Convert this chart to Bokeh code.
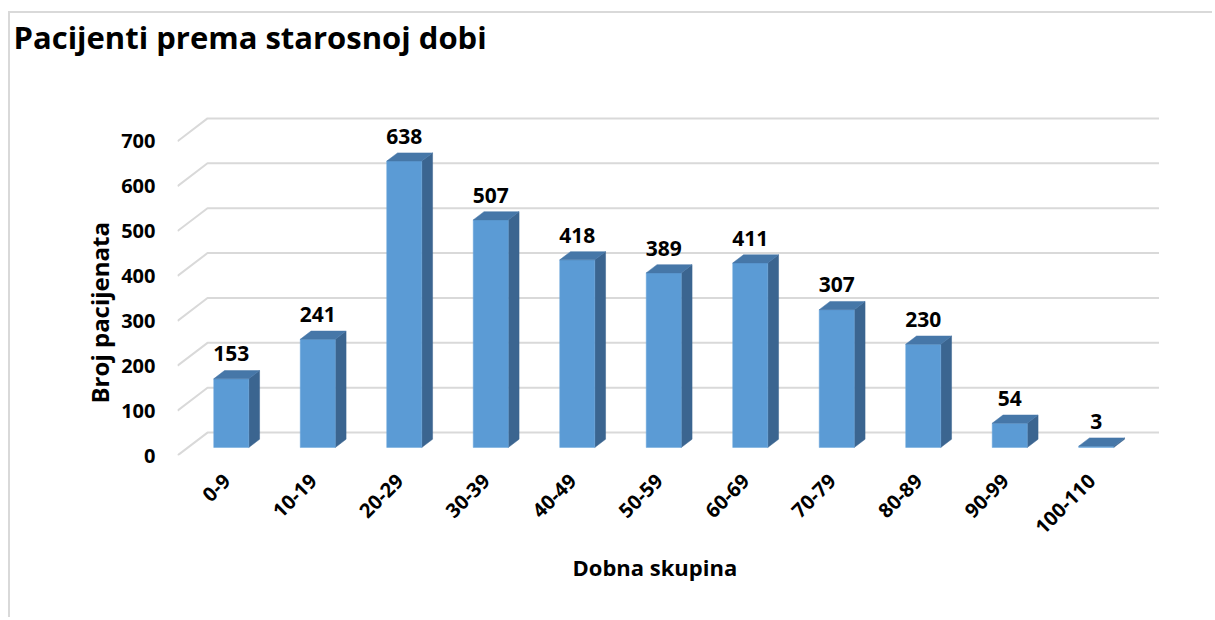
import math
from bokeh.plotting import figure
from bokeh.models import Range1d, FixedTicker, Title
from bokeh.core.properties import value
from bokeh.embed import file_html
from bokeh.resources import INLINE

# ---- data ----
categories = ["0-9", "10-19", "20-29", "30-39", "40-49", "50-59",
              "60-69", "70-79", "80-89", "90-99", "100-110"]
patients = [153, 241, 638, 507, 418, 389, 411, 307, 230, 54, 3]
y_ticks = [0, 100, 200, 300, 400, 500, 600, 700]
title_text = "Pacijenti prema starosnoj dobi"
x_title = "Dobna skupina"
y_title = "Broj pacijenata"

# ---- style ----
FONT = "Open Sans"
FLOOR_X0 = -0.57     # front-left corner of the floor (x units)
DEPTH_X = 0.347      # 3D depth of the floor in x units
DEPTH_Y = 51.0       # 3D depth of the floor in y units
BAR_FRONT = 0.35     # depth fraction of bar front face
BAR_BACK = 0.71      # depth fraction of bar back face
BAR_W = 0.405
FRONT_C = "#5b9bd5"
SIDE_C = "#3b6590"
TOP_C = "#4677a8"
GRID_C = "#d9d9d9"

n = len(categories)
p = figure(width=1204, height=606, output_backend="svg", toolbar_location=None,
           x_range=Range1d(FLOOR_X0, 11.257), y_range=Range1d(0, 886.7),
           min_border_left=167, min_border_right=14, min_border_top=43,
           min_border_bottom=164)
p.styles = {"margin-left": "8px", "margin-top": "11px",
            "border-left": "2px solid #d9d9d9", "border-top": "2px solid #d9d9d9"}
p.outline_line_color = None
p.grid.visible = False

# gridlines (floor diagonal + back wall)
gx, gy = [], []
x_end = FLOOR_X0 + n + DEPTH_X
for t in y_ticks:
    gx.append([FLOOR_X0, FLOOR_X0 + DEPTH_X, x_end])
    gy.append([t, t + DEPTH_Y, t + DEPTH_Y])
p.multi_line(gx, gy, line_color=GRID_C, line_width=2)

# 3D bars
fdx, fdy = BAR_FRONT * DEPTH_X, BAR_FRONT * DEPTH_Y
ddx, ddy = (BAR_BACK - BAR_FRONT) * DEPTH_X, (BAR_BACK - BAR_FRONT) * DEPTH_Y
lefts, rights, bottoms, tops = [], [], [], []
side_x, side_y, top_x, top_y = [], [], [], []
lab_x, lab_y, lab_t = [], [], []
for i, v in enumerate(patients):
    c = FLOOR_X0 + 0.5 + i + fdx
    l, r = c - BAR_W / 2, c + BAR_W / 2
    b, t = fdy, fdy + v
    lefts.append(l); rights.append(r); bottoms.append(b); tops.append(t)
    side_x.append([r, r + ddx, r + ddx, r])
    side_y.append([b, b + ddy, t + ddy, t])
    top_x.append([l, r, r + ddx, l + ddx])
    top_y.append([t, t, t + ddy, t + ddy])
    lab_x.append(c)
    lab_y.append(t + ddy + 37)
    lab_t.append(str(v))

p.patches(side_x, side_y, fill_color=SIDE_C, line_color=SIDE_C, line_width=0.5)
p.quad(left=lefts, right=rights, bottom=bottoms, top=tops,
       fill_color=FRONT_C, line_color="#6aa6dc", line_width=0.5)
p.patches(top_x, top_y, fill_color=TOP_C, line_color=TOP_C, line_width=0.5)

p.text(x=lab_x, y=lab_y, text=lab_t, text_align="center",
       text_baseline="alphabetic", text_font=value(FONT),
       text_font_style="bold", text_font_size="21px", text_color="black")

# axes
for ax in (p.xaxis[0], p.yaxis[0]):
    ax.axis_line_color = None
    ax.major_tick_line_color = None
    ax.minor_tick_line_color = None
    ax.major_tick_out = 0
    ax.major_tick_in = 0
    ax.major_label_text_font = FONT
    ax.major_label_text_font_style = "bold"
    ax.major_label_text_font_size = "20px"
    ax.major_label_text_color = "black"

p.yaxis.ticker = FixedTicker(ticks=y_ticks)
p.yaxis.major_label_standoff = 22
p.xaxis.ticker = FixedTicker(ticks=list(range(n)))
p.xaxis.major_label_overrides = {i: c for i, c in enumerate(categories)}
p.xaxis.major_label_orientation = math.pi / 4
p.xaxis.major_label_standoff = 22

# axis titles
p.add_layout(Title(text=y_title, align="left", offset=52, standoff=6,
                   text_font=FONT, text_font_style="bold",
                   text_font_size="24px", text_color="black"), "left")
p.add_layout(Title(text=x_title, align="left", offset=395, standoff=16,
                   vertical_align="top", text_font=FONT,
                   text_font_style="bold", text_font_size="22px",
                   text_color="black"), "below")

# title
p.title.text = title_text
p.title.align = "left"
p.title.offset = -164
p.title.standoff = 0
p.title.text_font = FONT
p.title.text_font_style = "bold"
p.title.text_font_size = "31px"
p.title.text_color = "black"

open("out.html", "w").write(file_html(p, INLINE))
